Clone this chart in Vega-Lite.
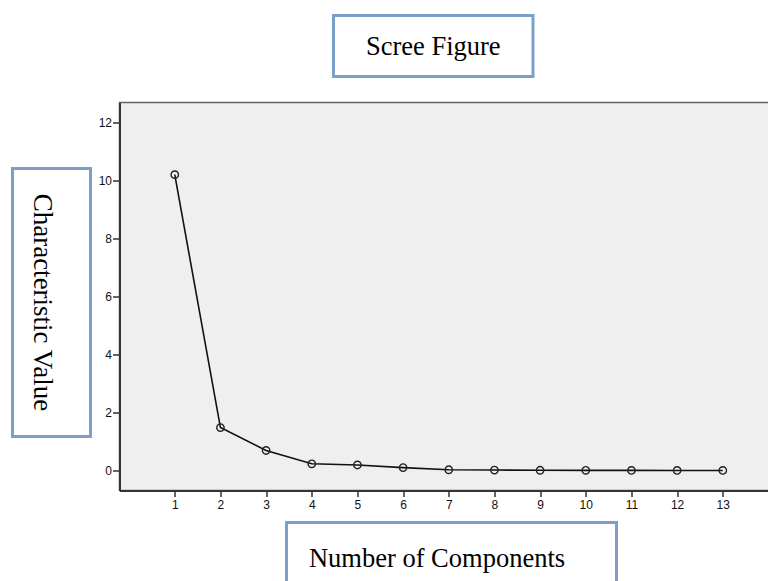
{
  "$schema": "https://vega.github.io/schema/vega-lite/v6.json",
  "padding": {"left": 10.5, "top": 13.5, "right": 0, "bottom": 0},
  "background": "white",
  "spacing": 9,
  "config": {
    "concat": {"spacing": 0},
    "view": {"stroke": null},
    "text": {"font": "Liberation Serif"}
  },
  "vconcat": [
    {
      "spacing": 0,
      "hconcat": [
        {
          "width": 319, "height": 76.5,
          "view": {"stroke": null, "fill": null},
          "data": {"values": [{"t": ""}]},
          "mark": {"type": "text"},
          "encoding": {"text": {"field": "t"}}
        },
        {
          "width": 199.5, "height": 61,
          "view": {"stroke": "#7a9fc8", "strokeWidth": 3, "fill": "white"},
          "data": {"values": [{"label": "Scree Figure"}]},
          "mark": {"type": "text", "font": "Liberation Serif", "fontSize": 26.5, "color": "#000", "dy": 1},
          "encoding": {"text": {"field": "label"}}
        }
      ]
    },
    {
      "spacing": 4,
      "hconcat": [
        {
          "spacing": 0,
          "vconcat": [
            {
              "width": 78, "height": 64,
              "view": {"stroke": null, "fill": null},
              "data": {"values": [{"t": ""}]},
              "mark": {"type": "text"},
              "encoding": {"text": {"field": "t"}}
            },
            {
              "width": 78, "height": 268,
              "view": {"stroke": "#7a9fc8", "strokeWidth": 3, "fill": "white"},
              "data": {"values": [{"label": "Characteristic Value"}]},
              "mark": {"type": "text", "font": "Liberation Serif", "fontSize": 27, "color": "#000", "angle": 90, "dy": 10},
              "encoding": {"text": {"field": "label"}}
            }
          ]
        },
        {
          "width": 651, "height": 388,
          "view": {"fill": "#efefef", "stroke": "#666", "strokeWidth": 1.5},
          "data": {"values": [
            {"component": 1, "value": 10.2},
            {"component": 2, "value": 1.48},
            {"component": 3, "value": 0.69},
            {"component": 4, "value": 0.23},
            {"component": 5, "value": 0.19},
            {"component": 6, "value": 0.1},
            {"component": 7, "value": 0.025},
            {"component": 8, "value": 0.015},
            {"component": 9, "value": 0.008},
            {"component": 10, "value": 0.005},
            {"component": 11, "value": 0.003},
            {"component": 12, "value": 0.002},
            {"component": 13, "value": 0.001}
          ]},
          "encoding": {
            "x": {
              "field": "component", "type": "quantitative",
              "scale": {"domain": [-0.21, 14.045], "nice": false, "zero": false},
              "axis": {
                "title": null, "grid": false,
                "values": [1, 2, 3, 4, 5, 6, 7, 8, 9, 10, 11, 12, 13],
                "labelFont": "Liberation Sans", "labelFontSize": 12, "labelColor": "#111",
                "tickColor": "#333", "tickSize": 6, "tickWidth": 1.5,
                "domainColor": "#333", "domainWidth": 2,
                "labelPadding": 3, "labelFlush": false, "labelOverlap": false
              }
            },
            "y": {
              "field": "value", "type": "quantitative",
              "scale": {"domain": [-0.69, 12.69], "nice": false, "zero": false},
              "axis": {
                "title": null, "grid": false,
                "values": [0, 2, 4, 6, 8, 10, 12],
                "labelFont": "Liberation Sans", "labelFontSize": 12, "labelColor": "#111",
                "tickColor": "#333", "tickSize": 7, "tickWidth": 1.5,
                "domainColor": "#333", "domainWidth": 2,
                "labelPadding": 1, "labelFlush": false, "labelOverlap": false
              }
            }
          },
          "layer": [
            {"mark": {"type": "line", "color": "#111", "strokeWidth": 1.6}},
            {"mark": {"type": "point", "filled": false, "color": "#222", "size": 55, "strokeWidth": 1.4, "opacity": 1}}
          ]
        }
      ]
    },
    {
      "spacing": 0,
      "hconcat": [
        {
          "width": 272, "height": 10,
          "view": {"stroke": null, "fill": null},
          "data": {"values": [{"t": ""}]},
          "mark": {"type": "text"},
          "encoding": {"text": {"field": "t"}}
        },
        {
          "width": 330, "height": 62,
          "view": {"stroke": "#7a9fc8", "strokeWidth": 3, "fill": "white"},
          "data": {"values": [{"label": "Number of Components"}]},
          "mark": {"type": "text", "font": "Liberation Serif", "fontSize": 26.5, "color": "#000", "dx": -14.5, "dy": 5},
          "encoding": {"text": {"field": "label"}}
        }
      ]
    }
  ]
}
